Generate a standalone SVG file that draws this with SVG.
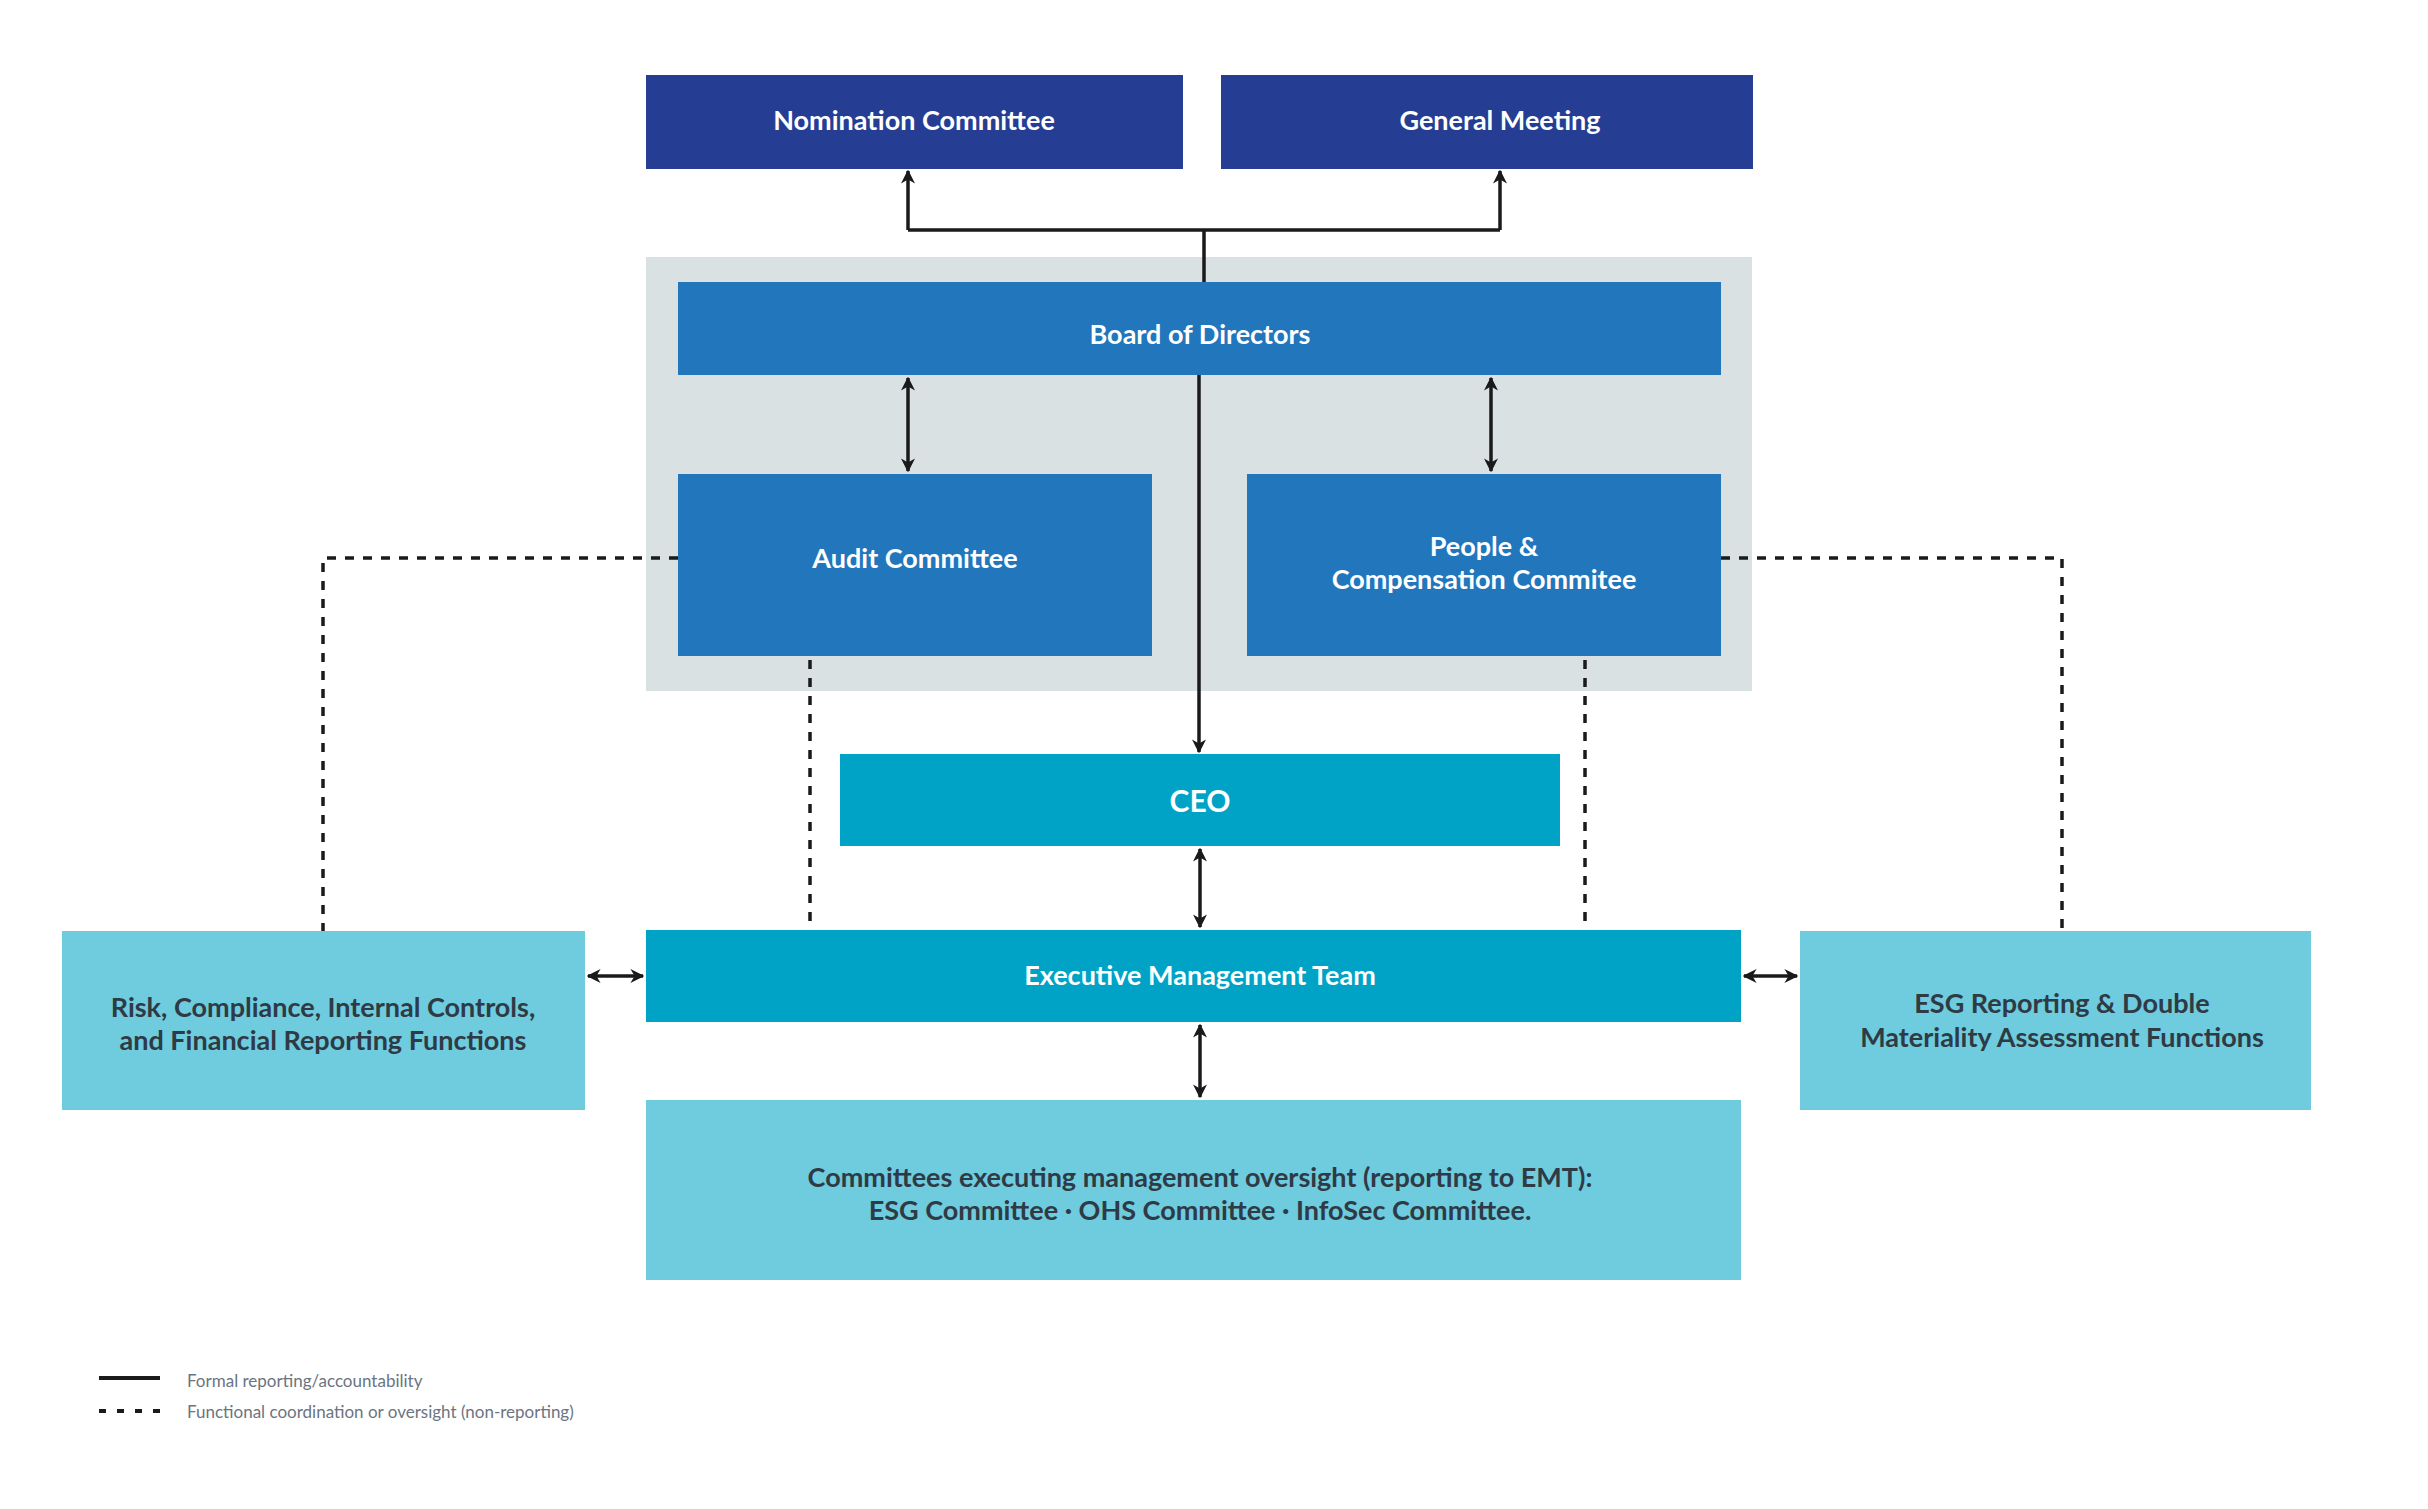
<svg xmlns="http://www.w3.org/2000/svg" width="2428" height="1509" viewBox="0 0 2428 1509">
<style>
.t{font-family:Lato,"Liberation Sans",sans-serif;font-weight:700;font-size:27px;text-anchor:middle;dominant-baseline:central}
.w{fill:#ffffff}.d{fill:#2e3a44}
.s{stroke:#1a1a1a;stroke-width:3.5;fill:none}
.ds{stroke:#1a1a1a;stroke-width:3.5;fill:none;stroke-dasharray:9 9}
.lg{font-family:Lato,"Liberation Sans",sans-serif;font-size:17px;fill:#6b7480;dominant-baseline:central}
</style>
<defs>
<marker id="a" viewBox="0 0 10 10" refX="9" refY="5" markerWidth="4" markerHeight="4" orient="auto-start-reverse" markerUnits="strokeWidth">
<path d="M0,0 L10,5 L0,10 L3,5 Z" fill="#1a1a1a"/>
</marker>
</defs>
<rect width="2428" height="1509" fill="#ffffff"/>
<rect id="panel" x="646" y="257" width="1106" height="434" fill="#dae1e3"/>
<g id="nomination"><rect x="646" y="75" width="537" height="94" fill="#253e94"/><text class="t w" x="914" y="119">Nomination Committee</text></g>
<g id="general-meeting"><rect x="1221" y="75" width="532" height="94" fill="#253e94"/><text class="t w" x="1500" y="119">General Meeting</text></g>
<g id="board"><rect x="678" y="282" width="1043" height="93" fill="#2176bc"/><text class="t w" x="1200" y="333">Board of Directors</text></g>
<g id="audit"><rect x="678" y="474" width="474" height="182" fill="#2176bc"/><text class="t w" x="915" y="557">Audit Committee</text></g>
<g id="people"><rect x="1247" y="474" width="474" height="182" fill="#2176bc"/><text class="t w" x="1484" y="545">People &amp;</text><text class="t w" x="1484" y="578">Compensation Commitee</text></g>
<g id="ceo"><rect x="840" y="754" width="720" height="92" fill="#00a3c6"/><text class="t w" x="1200" y="800" style="font-size:30px">CEO</text></g>
<g id="emt"><rect x="646" y="930" width="1095" height="92" fill="#00a3c6"/><text class="t w" x="1200" y="974">Executive Management Team</text></g>
<g id="risk"><rect x="62" y="931" width="523" height="179" fill="#6fcbde"/><text class="t d" x="323" y="1006">Risk, Compliance, Internal Controls,</text><text class="t d" x="323" y="1039">and Financial Reporting Functions</text></g>
<g id="esg"><rect x="1800" y="931" width="511" height="179" fill="#6fcbde"/><text class="t d" x="2062" y="1002">ESG Reporting &amp; Double</text><text class="t d" x="2062" y="1036">Materiality Assessment Functions</text></g>
<g id="committees"><rect x="646" y="1100" width="1095" height="180" fill="#6fcbde"/><text class="t d" x="1200" y="1176">Committees executing management oversight (reporting to EMT):</text><text class="t d" x="1200" y="1209">ESG Committee · OHS Committee · InfoSec Committee.</text></g>
<g id="connectors">
<path class="s" d="M1204,282 V230 M908,230 H1500" />
<path class="s" d="M908,230 V171" marker-end="url(#a)"/>
<path class="s" d="M1500,230 V171" marker-end="url(#a)"/>
<path class="s" d="M908,378 V471" marker-start="url(#a)" marker-end="url(#a)"/>
<path class="s" d="M1491,378 V471" marker-start="url(#a)" marker-end="url(#a)"/>
<path class="s" d="M1199,375 V752" marker-end="url(#a)"/>
<path class="s" d="M1200,849 V927" marker-start="url(#a)" marker-end="url(#a)"/>
<path class="s" d="M1200,1025 V1097" marker-start="url(#a)" marker-end="url(#a)"/>
<path class="s" d="M588,976 H643" marker-start="url(#a)" marker-end="url(#a)"/>
<path class="s" d="M1744,976 H1797" marker-start="url(#a)" marker-end="url(#a)"/>
<path class="ds" d="M678,558 H323 V931"/>
<path class="ds" d="M1721,558 H2062 V931"/>
<path class="ds" d="M810,660 V930"/>
<path class="ds" d="M1585,660 V930"/>
</g>
<g id="legend">
<line x1="99" y1="1378" x2="160" y2="1378" stroke="#1a1a1a" stroke-width="4"/>
<line x1="99" y1="1411" x2="160" y2="1411" stroke="#1a1a1a" stroke-width="4" stroke-dasharray="7 11"/>
<text class="lg" x="187" y="1380">Formal reporting/accountability</text>
<text class="lg" x="187" y="1411">Functional coordination or oversight (non-reporting)</text>
</g>
</svg>
